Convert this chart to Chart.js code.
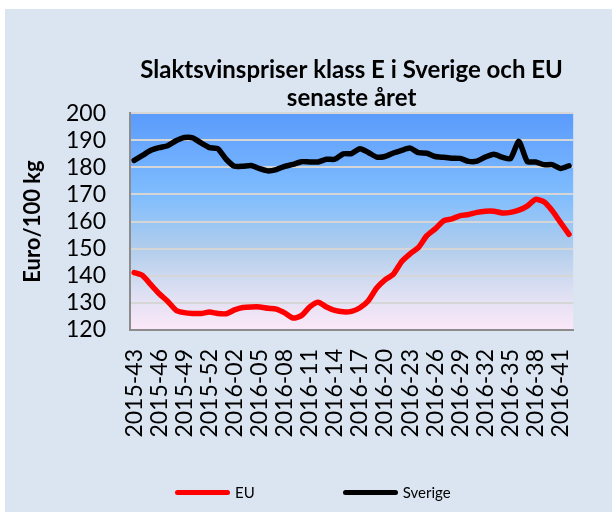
<!DOCTYPE html>
<html>
<head>
<meta charset="utf-8">
<title>Slaktsvinspriser</title>
<script src="https://cdn.jsdelivr.net/npm/chart.js@4"></script>
<style>
  html, body { margin: 0; padding: 0; background: #ffffff; }
  .wrap { position: relative; width: 616px; height: 512px; }
  canvas { display: block; }
  #legend { position: absolute; left: 175px; top: 483px; display: flex; font: 15px Lato, sans-serif; color: #000; }
  #legend .item { display: flex; align-items: center; margin-right: 88px; }
  #legend .swatch { width: 55px; height: 5px; border-radius: 3px; margin-right: 5px; }
</style>
</head>
<body>
<div class="wrap">
  <canvas id="price-chart" width="616" height="512"></canvas>
  <div id="legend"></div>
</div>
<script>
const weeks = [
    '2015-43', '2015-44', '2015-45', '2015-46', '2015-47', '2015-48', '2015-49', '2015-50', '2015-51', '2015-52', '2015-53',
    '2016-01', '2016-02', '2016-03', '2016-04', '2016-05', '2016-06', '2016-07', '2016-08', '2016-09', '2016-10',
    '2016-11', '2016-12', '2016-13', '2016-14', '2016-15', '2016-16', '2016-17', '2016-18', '2016-19', '2016-20',
    '2016-21', '2016-22', '2016-23', '2016-24', '2016-25', '2016-26', '2016-27', '2016-28', '2016-29', '2016-30',
    '2016-31', '2016-32', '2016-33', '2016-34', '2016-35', '2016-36', '2016-37', '2016-38', '2016-39', '2016-40',
    '2016-41', '2016-42'
];

const euPrices = [
    141.2, 140.1, 136.7, 133.4, 130.6, 127.3, 126.4, 126.1, 126.1, 126.6,
    126.1, 126.0, 127.4, 128.3, 128.5, 128.5, 128.0, 127.7, 126.3, 124.4,
    125.3, 128.5, 130.2, 128.5, 127.2, 126.7, 126.9, 128.2, 130.8, 135.5,
    138.5, 140.6, 145.3, 148.1, 150.5, 154.8, 157.3, 160.3, 161.0, 162.2,
    162.6, 163.4, 163.8, 163.8, 163.2, 163.4, 164.2, 165.7, 168.2, 167.3,
    164.0, 159.6, 155.3
];

const sverigePrices = [
    182.6, 184.4, 186.3, 187.3, 188.0, 189.8, 191.0, 190.9, 189.0, 187.3,
    186.9, 183.0, 180.4, 180.4, 180.7, 179.5, 178.7, 179.2, 180.4, 181.1,
    182.1, 182.0, 182.0, 183.0, 183.0, 185.0, 185.1, 186.9, 185.5, 183.8,
    184.0, 185.3, 186.3, 187.1, 185.4, 185.2, 184.0, 183.7, 183.4, 183.3,
    182.2, 182.3, 183.8, 184.8, 183.8, 183.2, 189.6, 182.2, 182.0, 181.0,
    181.0, 179.6, 180.6
];

const yMin = 120;
const yMax = 200;
const yStep = 10;

Chart.defaults.font.family = 'Lato';
Chart.defaults.color = '#000000';

const plotBackground = {
    id: 'plotBackground',
    beforeDraw(chart) {
        const { ctx, chartArea } = chart;
        ctx.save();
        ctx.fillStyle = '#ffffff';
        ctx.fillRect(0, 0, chart.width, chart.height);
        ctx.fillStyle = '#dbe5f1';
        ctx.fillRect(5, 9, chart.width - 9, chart.height - 9);

        const gradient = ctx.createLinearGradient(0, chartArea.top, 0, chartArea.bottom);
        gradient.addColorStop(0, '#5a9bfc');
        gradient.addColorStop(0.38, '#80bdfe');
        gradient.addColorStop(0.62, '#b0cdec');
        gradient.addColorStop(0.82, '#dcdff2');
        gradient.addColorStop(1, '#fbe8f8');
        ctx.fillStyle = gradient;
        ctx.fillRect(chartArea.left, chartArea.top, chartArea.right - chartArea.left, chartArea.bottom - chartArea.top);
        ctx.restore();
    }
};

// legend as html, built from the chart's own legend items
const htmlLegend = {
    id: 'htmlLegend',
    afterUpdate(chart) {
        const container = document.getElementById('legend');
        container.innerHTML = '';
        chart.options.plugins.legend.labels.generateLabels(chart).forEach(item => {
            const li = document.createElement('div');
            li.className = 'item';
            const swatch = document.createElement('span');
            swatch.className = 'swatch';
            swatch.style.background = item.strokeStyle;
            const text = document.createElement('span');
            text.textContent = item.text;
            li.appendChild(swatch);
            li.appendChild(text);
            container.appendChild(li);
        });
    }
};

new Chart(document.querySelector('#price-chart').getContext('2d'), {
    type: 'line',
    data: {
        labels: weeks,
        datasets: [{
            label: 'EU',
            data: euPrices,
            borderColor: '#ff0000',
            backgroundColor: '#ff0000',
            borderWidth: 5.5,
            pointRadius: 0,
            tension: 0.2,
            borderJoinStyle: 'round',
            borderCapStyle: 'round'
        }, {
            label: 'Sverige',
            data: sverigePrices,
            borderColor: '#000000',
            backgroundColor: '#000000',
            borderWidth: 5.5,
            pointRadius: 0,
            tension: 0.2,
            borderJoinStyle: 'round',
            borderCapStyle: 'round'
        }]
    },
    options: {
        responsive: false,
        animation: false,
        layout: { padding: { left: 28, right: 13, top: 9, bottom: 32 } },
        plugins: {
            title: {
                display: true,
                fullSize: false,
                text: ['Slaktsvinspriser klass E i Sverige och EU', 'senaste året'],
                font: { size: 24, weight: 'bold', lineHeight: 1.17 },
                color: '#000000',
                padding: { top: 47, bottom: 1 }
            },
            legend: { display: false },
            tooltip: { enabled: false }
        },
        scales: {
            x: {
                offset: true,
                grid: { display: false, drawTicks: false },
                border: { display: true, color: '#8c8c8c', width: 2 },
                ticks: {
                    autoSkip: false,
                    minRotation: 90,
                    maxRotation: 90,
                    padding: 19,
                    font: { size: 23 },
                    color: '#000000',
                    callback: (value, index) => index % 3 === 0 ? weeks[index] : ''
                },
                afterFit: scale => { scale.height = 150; }
            },
            y: {
                min: yMin,
                max: yMax,
                grid: { color: '#d6d6d6', lineWidth: 2, drawTicks: false },
                border: { display: true, color: '#8c8c8c', width: 2 },
                ticks: {
                    stepSize: yStep,
                    autoSkip: false,
                    padding: 24,
                    font: { size: 23 },
                    color: '#000000'
                },
                title: {
                    display: true,
                    text: 'Euro/100 kg',
                    font: { size: 22, weight: 'bold', lineHeight: 1 },
                    color: '#000000',
                    padding: { top: -6, bottom: 0 }
                },
                afterFit: scale => { scale.width = 102; }
            }
        }
    },
    plugins: [plotBackground, htmlLegend]
});
</script>
</body>
</html>
